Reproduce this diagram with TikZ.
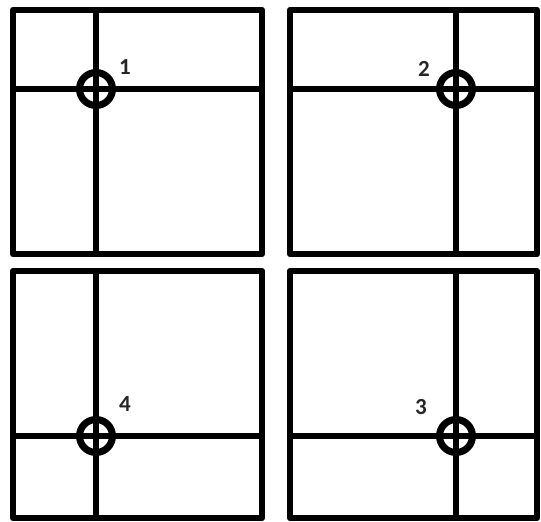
\documentclass[tikz,border=0pt]{standalone}
\usepackage{fontspec}
\setmainfont{Carlito}
\begin{document}
\begin{tikzpicture}[x=1pt,y=-1pt,
  frame/.style={line width=6.5pt,line join=round,line cap=round},
  grid/.style={line width=6pt},
  target/.style={circle,draw,line width=7pt,inner sep=0pt,minimum size=33pt},
  num/.style={font=\fontsize{23}{26}\selectfont\bfseries,text=black!85,inner sep=0pt}]
\useasboundingbox (0,0) rectangle (541,522);
% panel 1 (top left)
\draw[frame] (13,10) rectangle (262,254);
\coordinate (v1t) at (96,10); \coordinate (v1b) at (96,254);
\coordinate (h1l) at (13,89); \coordinate (h1r) at (262,89);
\draw[grid] (v1t) -- (v1b);
\draw[grid] (h1l) -- (h1r);
\node[target] (c1) at (96,89) {};
\node[num] (n1) at (125,67) {1};
% panel 2 (top right)
\draw[frame] (290,10) rectangle (537,254);
\coordinate (v2t) at (456,10); \coordinate (v2b) at (456,254);
\coordinate (h2l) at (290,89); \coordinate (h2r) at (537,89);
\draw[grid] (v2t) -- (v2b);
\draw[grid] (h2l) -- (h2r);
\node[target] (c2) at (456,89) {};
\node[num] (n2) at (424,69) {2};
% panel 4 (bottom left)
\draw[frame] (13,271) rectangle (262,518);
\coordinate (v4t) at (96,271); \coordinate (v4b) at (96,518);
\coordinate (h4l) at (13,436); \coordinate (h4r) at (262,436);
\draw[grid] (v4t) -- (v4b);
\draw[grid] (h4l) -- (h4r);
\node[target] (c4) at (96,436) {};
\node[num] (n4) at (125,404) {4};
% panel 3 (bottom right)
\draw[frame] (290,271) rectangle (537,518);
\coordinate (v3t) at (456,271); \coordinate (v3b) at (456,518);
\coordinate (h3l) at (290,436); \coordinate (h3r) at (537,436);
\draw[grid] (v3t) -- (v3b);
\draw[grid] (h3l) -- (h3r);
\node[target] (c3) at (456,436) {};
\node[num] (n3) at (421,407) {3};
\end{tikzpicture}
\end{document}
